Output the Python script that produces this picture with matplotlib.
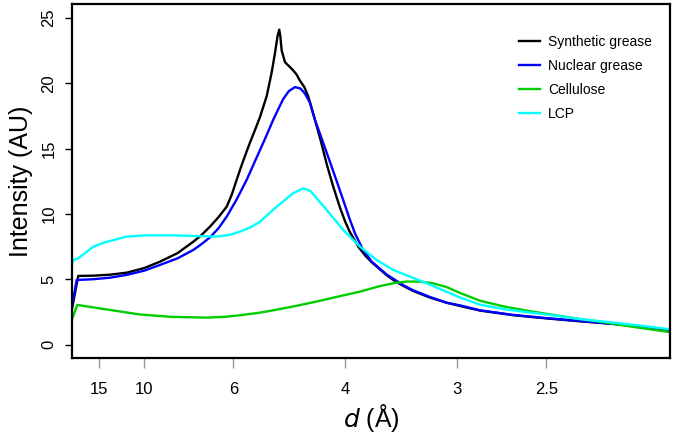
import matplotlib
matplotlib.use("Agg")
import matplotlib.pyplot as plt

# x values are 1/d (1/Å); tick labels show d (Å)
x_synth = [0.0460, 0.0509, 0.0621, 0.0750, 0.0870, 0.1000, 0.1118, 0.1250, 0.1367,
           0.1430, 0.1491, 0.1555, 0.1616, 0.1655, 0.1690, 0.1730, 0.1780, 0.1830,
           0.1864, 0.1914, 0.1951, 0.1976, 0.1995, 0.2008, 0.2016, 0.2026, 0.2051,
           0.2101, 0.2135, 0.2162, 0.2195, 0.2224, 0.2274, 0.2320, 0.2362,
           0.2410, 0.2460, 0.2500, 0.2535, 0.2600, 0.2650, 0.2697, 0.2759, 0.2810,
           0.2871, 0.2940, 0.3007, 0.3130, 0.3256, 0.3356, 0.3505, 0.3750, 0.4002,
           0.4250, 0.4499, 0.4700, 0.4922]
y_synth = [2.6, 5.25, 5.27, 5.35, 5.5, 5.85, 6.34, 7.0, 7.87,
           8.4, 9.02, 9.75, 10.55, 11.5, 12.6, 13.8, 15.2, 16.5,
           17.4, 19.0, 20.8, 22.3, 23.6, 24.1, 23.6, 22.5, 21.6,
           21.1, 20.7, 20.2, 19.7, 19.0, 17.2, 15.5, 13.8,
           12.1, 10.5, 9.4, 8.6, 7.45, 6.8, 6.3, 5.75, 5.3,
           4.85, 4.45, 4.1, 3.6, 3.2, 2.95, 2.6, 2.25, 2.0,
           1.78, 1.58, 1.38, 1.1]

x_nuc = [0.0460, 0.0497, 0.0621, 0.0750, 0.0870, 0.1000, 0.1118, 0.1250, 0.1367,
         0.1430, 0.1491, 0.1555, 0.1616, 0.1690, 0.1765, 0.1830, 0.1900, 0.1963,
         0.2000, 0.2038, 0.2080, 0.2125, 0.2165, 0.2200, 0.2237, 0.2274, 0.2330,
         0.2399, 0.2450, 0.2500, 0.2535, 0.2573, 0.2630, 0.2697, 0.2759, 0.2810,
         0.2871, 0.2940, 0.3007, 0.3130, 0.3256, 0.3356, 0.3505, 0.3750, 0.4002,
         0.4250, 0.4499, 0.4700, 0.4922]
y_nuc = [2.8, 4.94, 5.0, 5.12, 5.33, 5.65, 6.09, 6.6, 7.24,
         7.7, 8.2, 8.9, 9.79, 11.1, 12.6, 14.1, 15.7, 17.2,
         18.0, 18.8, 19.4, 19.7, 19.6, 19.2, 18.5, 17.2, 15.6,
         13.6, 12.1, 10.6, 9.55, 8.5, 7.3, 6.35, 5.8, 5.35,
         4.95, 4.5, 4.15, 3.65, 3.2, 3.0, 2.62, 2.27, 2.02,
         1.8, 1.58, 1.4, 1.12]

x_cell = [0.0460, 0.0502, 0.0700, 0.0969, 0.1200, 0.1467, 0.1600, 0.1715, 0.1850,
          0.1963, 0.2130, 0.2290, 0.2450, 0.2610, 0.2750, 0.2871, 0.2960, 0.3057,
          0.3150, 0.3256, 0.3356, 0.3505, 0.3690, 0.3878, 0.4002, 0.4250, 0.4399,
          0.4650, 0.4922]
y_cell = [1.88, 3.03, 2.72, 2.3, 2.12, 2.06, 2.12, 2.24, 2.42,
          2.62, 2.95, 3.3, 3.68, 4.05, 4.45, 4.72, 4.82, 4.82,
          4.7, 4.4, 3.95, 3.35, 2.9, 2.55, 2.35, 1.95, 1.75,
          1.35, 0.95]

x_lcp = [0.0460, 0.0472, 0.0509, 0.0560, 0.0621, 0.0700, 0.0870, 0.1019, 0.1200,
         0.1367, 0.1541, 0.1640, 0.1715, 0.1790, 0.1864, 0.1989, 0.2112, 0.2187,
         0.2240, 0.2299, 0.2362, 0.2485, 0.2610, 0.2734, 0.2858, 0.2983, 0.3107,
         0.3230, 0.3356, 0.3505, 0.3690, 0.3878, 0.4002, 0.4250, 0.4499, 0.4700,
         0.4922]
y_lcp = [5.96, 6.47, 6.6, 7.0, 7.49, 7.8, 8.26, 8.36, 8.36,
         8.31, 8.26, 8.4, 8.64, 8.95, 9.4, 10.55, 11.58, 11.96,
         11.75, 11.05, 10.3, 8.77, 7.49, 6.47, 5.71, 5.2, 4.69,
         4.15, 3.6, 3.05, 2.7, 2.45, 2.3, 1.95, 1.68, 1.45,
         1.17]

d_ticks = [15, 10, 6, 4, 3, 2.5]
d_labels = ["15", "10", "6", "4", "3", "2.5"]
y_ticks = [0, 5, 10, 15, 20, 25]

plt.rcParams['font.family'] = ['Liberation Sans', 'DejaVu Sans']

fig = plt.figure(figsize=(6.75, 4.41), dpi=100)
ax = fig.add_axes([0.1062, 0.1882, 0.8864, 0.8027])

lw = 1.7
ax.plot(x_synth, y_synth, color="black", lw=lw, label="Synthetic grease")
ax.plot(x_nuc, y_nuc, color="#0000FF", lw=lw, label="Nuclear grease")
ax.plot(x_cell, y_cell, color="#00CD00", lw=lw, label="Cellulose")
ax.plot(x_lcp, y_lcp, color="#00FFFF", lw=lw, label="LCP")

ax.set_xlim(0.0460, 0.4922)
ax.set_ylim(-1.03, 26.06)

ax.set_xticks([1.0 / d for d in d_ticks])
ax.set_xticklabels(d_labels, fontsize=12)
ax.set_yticks(y_ticks)
ax.set_yticklabels([str(v) for v in y_ticks], fontsize=12, rotation=90, va="center")

ax.tick_params(axis="x", direction="out", length=7, width=1, color="#999999", pad=10)
ax.tick_params(axis="y", direction="out", length=5, width=1, color="black", pad=6)

for s in ax.spines.values():
    s.set_linewidth(1.6)

ax.set_ylabel("Intensity (AU)", fontsize=18, labelpad=6)
ax.set_xlabel(r"$\it{d}$ (Å)", fontsize=18, labelpad=4)

leg = ax.legend(loc="upper left", frameon=False, fontsize=10, handlelength=1.5,
                handletextpad=0.58, labelspacing=0.73, borderpad=0.4,
                borderaxespad=0.0,
                bbox_to_anchor=(513.4 / 675, 1 - 29 / 441),
                bbox_transform=fig.transFigure)

fig.savefig("out.png", dpi=100)
